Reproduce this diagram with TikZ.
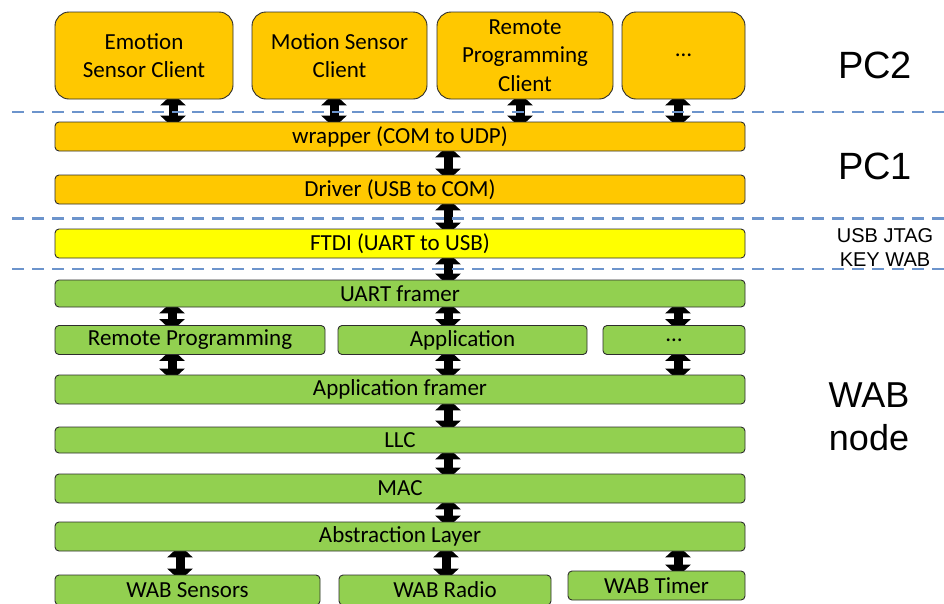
\documentclass[tikz,border=0pt]{standalone}
\usepackage{fontspec}
\setmainfont{Carlito}
\newfontfamily\arialfont{Liberation Sans}
\usetikzlibrary{arrows.meta}
\pgfdeclarelayer{background}
\pgfsetlayers{background,main}
\definecolor{cOrange}{RGB}{255,200,0}
\definecolor{cYellow}{RGB}{255,255,0}
\definecolor{cGreen}{RGB}{146,208,80}
\definecolor{cBorder}{RGB}{45,45,45}
\definecolor{cDash}{RGB}{108,148,204}
\begin{document}
\begin{tikzpicture}[x=1pt,y=-1pt,
  box/.style={draw=cBorder, line width=0.9pt, rectangle, rounded corners=4pt,
    inner sep=0pt, text=black, align=center,
    font=\fontsize{23}{28.5}\selectfont},
  client/.style={box, fill=cOrange, rounded corners=14pt, minimum height=87pt},
  pcbar/.style={box, fill=cOrange, minimum width=690pt, minimum height=29pt},
  ftdibar/.style={box, fill=cYellow, minimum width=690pt, minimum height=29pt},
  wbar/.style={box, fill=cGreen, minimum width=690pt, minimum height=29pt},
  wbox/.style={box, fill=cGreen, minimum height=29pt},
  dbl/.style={line width=9pt, draw=black,
    {Triangle[width=25pt,length=12pt]}-{Triangle[width=25pt,length=12pt]},
    shorten <=-6pt, shorten >=-6pt},
  sep/.style={draw=cDash, line width=2.5pt, dash pattern=on 12pt off 8pt},
  lab/.style={inner sep=0pt, text=black, align=center}
]
\useasboundingbox (0,0) rectangle (944,603);

% PC2 clients
\node[client, minimum width=178pt] (emo) at (144,55.5) {Emotion\\Sensor Client};
\node[client, minimum width=175pt] (mot) at (339.5,55.5) {Motion Sensor\\Client};
\node[client, minimum width=176pt] (rpc) at (525,55.5) {Remote\\Programming\\Client};
\node[client, minimum width=123pt] (cdots) at (683.5,55.5) {\dots};

% PC1
\node[pcbar] (wrap) at (400,136.5) {wrapper (COM to UDP)};
\node[pcbar] (drv) at (400,189.5) {Driver (USB to COM)};

% USB JTAG key
\node[ftdibar] (ftdi) at (400,243.5) {FTDI (UART to USB)};

% WAB node
\node[wbar, minimum height=27pt] (uart) at (400,293.5) {UART framer};
\node[wbox, minimum width=270pt] (rp) at (190,340) {Remote Programming};
\node[wbox, minimum width=249pt] (app) at (462.5,340) {Application};
\node[wbox, minimum width=142pt] (wdots) at (674,340) {\dots};
\node[wbar] (appf) at (400,389.5) {Application framer};
\node[wbar, minimum height=26pt] (llc) at (400,440) {LLC};
\node[wbar] (mac) at (400,488.5) {MAC};
\node[wbar] (abs) at (400,536.5) {Abstraction Layer};
\node[wbox, minimum width=265pt, minimum height=30pt] (wsens) at (187.5,590) {WAB Sensors};
\node[wbox, minimum width=212pt, minimum height=30pt] (wrad) at (445,590) {WAB Radio};
\node[wbox, minimum width=177pt] (wtim) at (656.5,585.5) {WAB Timer};

% right-hand labels
\node[lab, font=\arialfont\fontsize{38}{44}\selectfont] (pc2) at (875,65) {PC2};
\node[lab, font=\arialfont\fontsize{38}{44}\selectfont] (pc1) at (875,166) {PC1};
\node[lab, font=\arialfont\fontsize{20}{24}\selectfont] (usb) at (885,248) {USB JTAG\\KEY WAB};
\node[lab, font=\arialfont\fontsize{36}{43}\selectfont] (wab) at (869,417) {WAB\\node};

% x positions of the connectors
\coordinate (xa) at (173,0);
\coordinate (xb) at (334,0);
\coordinate (xc) at (520,0);
\coordinate (xd) at (678,0);
\coordinate (xm) at (448,0);
\coordinate (xl) at (172,0);
\coordinate (xr) at (678,0);
\coordinate (xs) at (180,0);
\coordinate (xt) at (446,0);

\begin{pgfonlayer}{background}
\fill[white] (0,0) rectangle (944,603);
\draw[dbl] (emo.south -| xa) -- (wrap.north -| xa);
\draw[dbl] (mot.south -| xb) -- (wrap.north -| xb);
\draw[dbl] (rpc.south -| xc) -- (wrap.north -| xc);
\draw[dbl] (cdots.south -| xd) -- (wrap.north -| xd);
\draw[dbl] (wrap.south -| xm) -- (drv.north -| xm);
\draw[dbl] (drv.south -| xm) -- (ftdi.north -| xm);
\draw[dbl] (ftdi.south -| xm) -- (uart.north -| xm);
\draw[dbl] (uart.south -| xl) -- (rp.north -| xl);
\draw[dbl] (uart.south -| xm) -- (app.north -| xm);
\draw[dbl] (uart.south -| xr) -- (wdots.north -| xr);
\draw[dbl] (rp.south -| xl) -- (appf.north -| xl);
\draw[dbl] (app.south -| xm) -- (appf.north -| xm);
\draw[dbl] (wdots.south -| xr) -- (appf.north -| xr);
\draw[dbl] (appf.south -| xm) -- (llc.north -| xm);
\draw[dbl] (llc.south -| xm) -- (mac.north -| xm);
\draw[dbl] (mac.south -| xm) -- (abs.north -| xm);
\draw[dbl] (abs.south -| xs) -- (wsens.north -| xs);
\draw[dbl] (abs.south -| xt) -- (wrad.north -| xt);
\draw[dbl] (abs.south -| xr) -- (wtim.north -| xr);
\end{pgfonlayer}

% dashed separators
\coordinate (s1a) at (12,112);   \coordinate (s1b) at (944,112);
\coordinate (s2a) at (12,218.5); \coordinate (s2b) at (944,218.5);
\coordinate (s3a) at (12,269);   \coordinate (s3b) at (944,269);
\draw[sep] (s1a) -- (s1b);
\draw[sep] (s2a) -- (s2b);
\draw[sep] (s3a) -- (s3b);
\end{tikzpicture}
\end{document}
